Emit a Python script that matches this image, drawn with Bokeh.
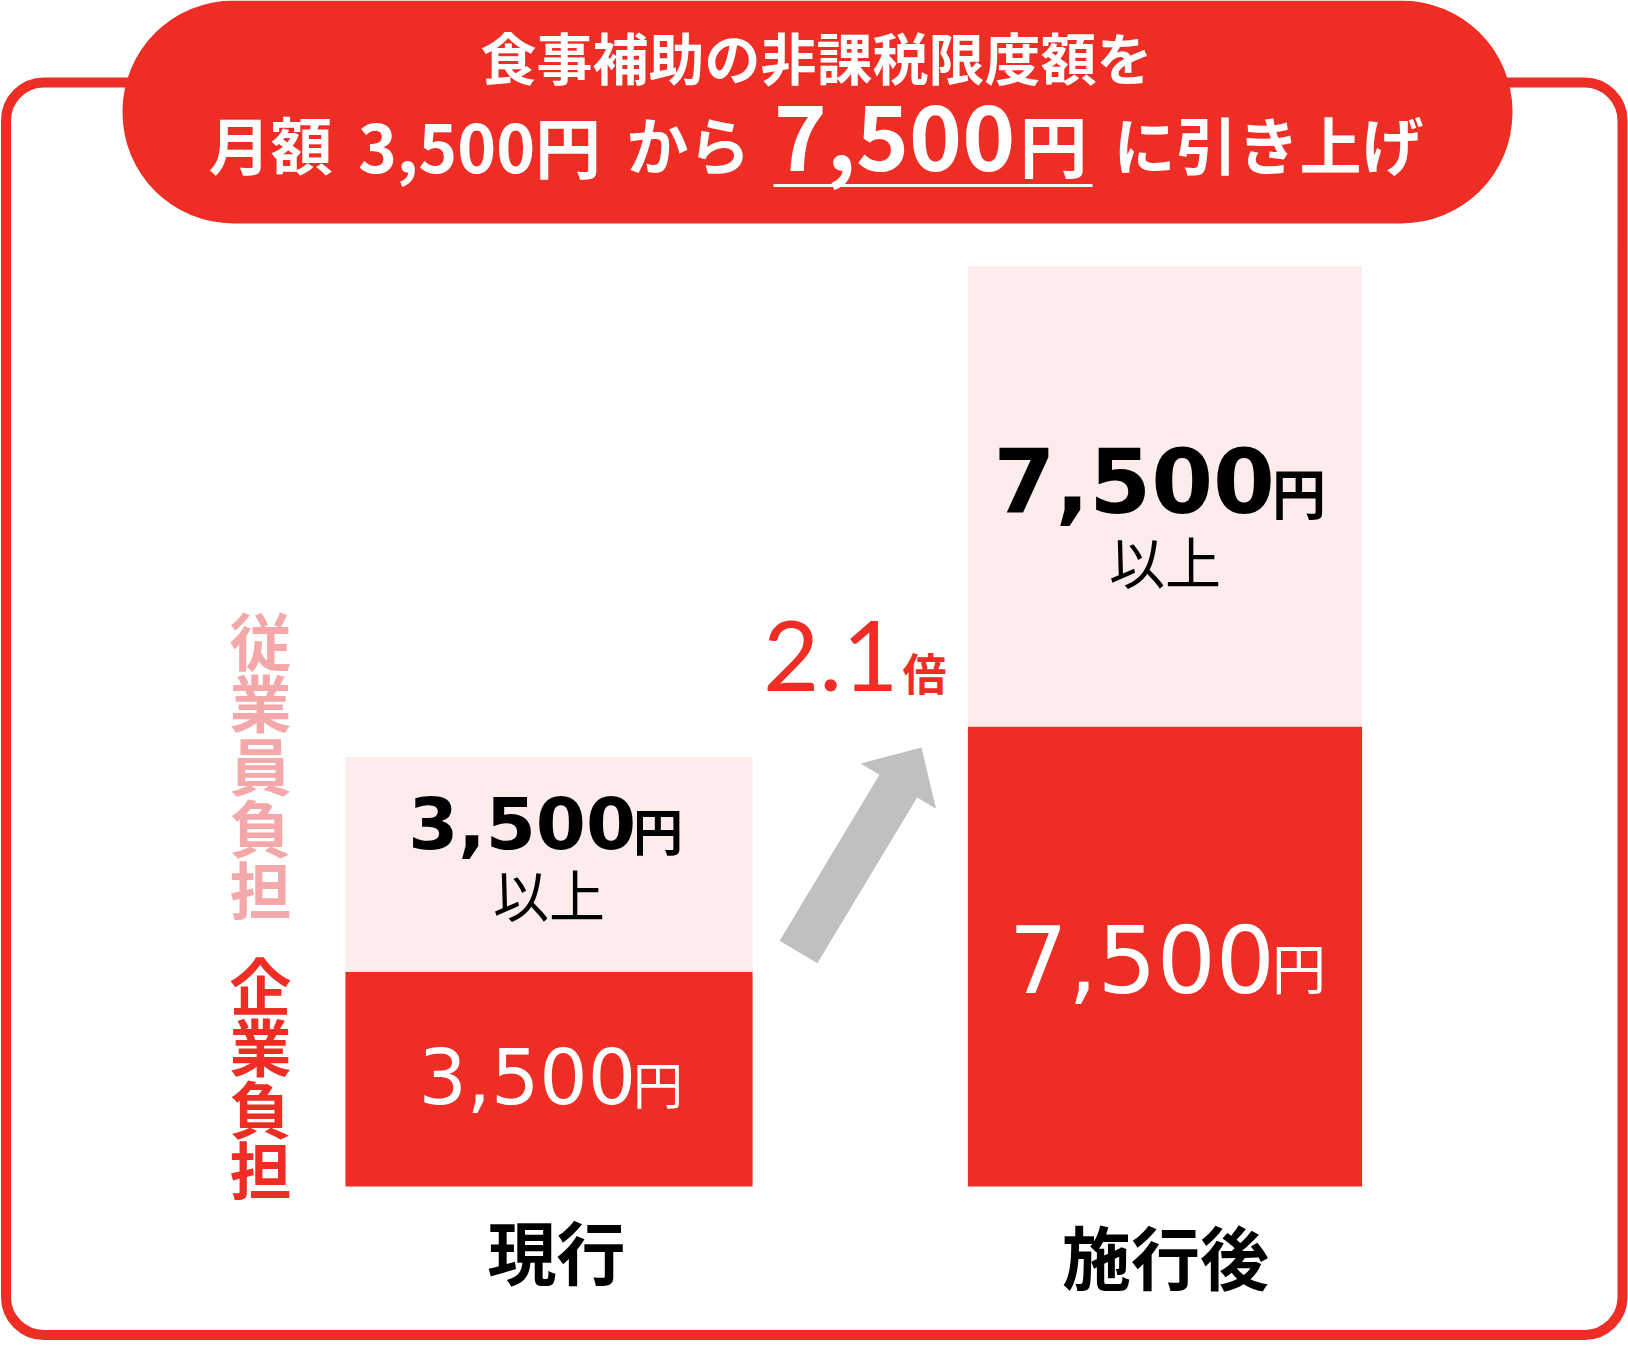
import numpy as np
from bokeh.plotting import figure
from bokeh.models import Range1d, BoxAnnotation, ColumnDataSource
from bokeh.core.properties import value
from bokeh.embed import file_html
from bokeh.resources import INLINE

# ---------------- data ----------------
categories = ["現行", "施行後"]
company = [3500, 7500]          # 企業負担 (円)
employee = [3500, 7500]         # 従業員負担 (円以上)
company_labels = ["3,500", "7,500"]
employee_labels = ["3,500", "7,500"]
yen_unit = "円"
min_note = "以上"
ratio_label = "2.1"
ratio_unit = "倍"
company_title = "企業負担"
employee_title = "従業員負担"
title_line1 = "食事補助の非課税限度額を"
title_parts = ["月額", "3,500円", "から", "7,500", "円", "に引き上げ"]

# ---------------- style / layout ----------------
RED = "#EE2D24"
PINK_BG = "#FDECEC"
PINK_TXT = "#F5A8A9"
GRAY = "#C0C0C0"
JP = value("Noto Sans CJK JP")
NUM = value("DejaVu Sans")
NUM2 = value("Lato")

W, H = 1628, 1350

p = figure(width=W, height=H, x_range=Range1d(0, W), y_range=Range1d(H, 0),
           output_backend="svg", toolbar_location=None, min_border=0)
p.axis.visible = False
p.grid.visible = False
p.outline_line_color = None
p.background_fill_color = "white"
p.border_fill_color = "white"

# category / value scales for the bars
cat_px, cat0_px = 616.0, 548.5
p.extra_x_ranges = {"cat": Range1d(-cat0_px / cat_px, (W - cat0_px) / cat_px)}
yen_per_px, base_px = 16.3, 1186.0
p.extra_y_ranges = {"yen": Range1d(-(H - base_px) * yen_per_px, base_px * yen_per_px)}
R = dict(x_range_name="cat", y_range_name="yen")

# frame and header pill
p.add_layout(BoxAnnotation(left=5.5, right=1622, top=82, bottom=1334.5, fill_color="white", fill_alpha=1,
                           line_color=RED, line_alpha=1, line_width=10, border_radius=38, level="underlay"))
p.add_layout(BoxAnnotation(left=122, right=1512, top=0, bottom=223, fill_color=RED, fill_alpha=1,
                           line_color=None, border_radius=111, level="underlay"))

# header text
p.text(x=[816], y=[55], text=[title_line1], text_font=JP, text_font_style="bold",
       text_font_size="56px", text_color="white", text_align="center", text_baseline="middle")
title_x = [270, 479, 688, 894, 1053, 1268]
title_y = [142, 143, 142, 137, 143, 142]
title_sz = ["62px", "66px", "62px", "90px", "68px", "62px"]
for t, x, y, sz in zip(title_parts, title_x, title_y, title_sz):
    p.text(x=[x], y=[y], text=[t], text_font=JP, text_font_style="bold", text_font_size=sz,
           text_color="white", text_align="center", text_baseline="middle")
p.line(x=[773, 1092], y=[185, 185], line_color="white", line_width=3)

# bars
idx = list(range(len(categories)))
bar_w = [0.661, 0.640]
tops = [c + e for c, e in zip(company, employee)]
src = ColumnDataSource(dict(x=idx, w=bar_w, company=company, top=tops))
p.vbar(x="x", width="w", bottom=0, top="company", source=src, fill_color=RED, line_color=None, **R)
p.vbar(x="x", width="w", bottom="company", top="top", source=src, fill_color=PINK_BG, line_color=None, **R)

# value labels in bars
pink_fs, pink_yen_fs = [72, 89], [50, 54]
red_fs, red_yen_fs = [76, 93], [50, 54]
num_anchor = [87, 110]
yen_anchor = [84, 107]
pink_dy, pink_yen_dy, note_dy = [-42, -16], [-35, -5], [28, 63]
red_dy, red_yen_dy = [-3, 2.5], [3, 10.5]
for i in idx:
    ym = company[i] + employee[i] / 2
    p.text(x=[i], y=[ym], text=[employee_labels[i]], text_font=NUM, text_font_style="bold",
           text_font_size=f"{pink_fs[i]}px", text_color="black", text_align="right", text_baseline="middle",
           x_offset=num_anchor[i], y_offset=pink_dy[i], **R)
    p.text(x=[i], y=[ym], text=[yen_unit], text_font=JP, text_font_style="bold",
           text_font_size=f"{pink_yen_fs[i]}px", text_color="black", text_align="left",
           text_baseline="middle", x_offset=yen_anchor[i], y_offset=pink_yen_dy[i], **R)
    p.text(x=[i], y=[ym], text=[min_note], text_font=JP, text_font_size="56px", text_color="black",
           text_align="center", text_baseline="middle", y_offset=note_dy[i], **R)
    ym = company[i] / 2
    p.text(x=[i], y=[ym], text=[company_labels[i]], text_font=NUM, text_font_size=f"{red_fs[i]}px",
           text_color="white", text_align="right", text_baseline="middle",
           x_offset=num_anchor[i], y_offset=red_dy[i], **R)
    p.text(x=[i], y=[ym], text=[yen_unit], text_font=JP, text_font_size=f"{red_yen_fs[i]}px",
           text_color="white", text_align="left", text_baseline="middle",
           x_offset=yen_anchor[i], y_offset=red_yen_dy[i], **R)

# category labels
p.text(x=idx, y=[0, 0], text=categories, text_font=JP, text_font_style="bold", text_font_size="69px",
       text_color="black", text_align="center", text_baseline="middle", x_offset=[7.5, 0.5],
       y_offset=[63.5, 68], **R)

# vertical side titles
for j, ch in enumerate(employee_title):
    p.text(x=[260], y=[638.5 + 62.25 * j], text=[ch], text_font=JP, text_font_style="bold",
           text_font_size="62px", text_color=PINK_TXT, text_align="center", text_baseline="middle")
for j, ch in enumerate(company_title):
    p.text(x=[260], y=[983.5 + 61.3 * j], text=[ch], text_font=JP, text_font_style="bold",
           text_font_size="62px", text_color=RED, text_align="center", text_baseline="middle")

# arrow
tail = np.array([798.0, 951.5])
tip = np.array([921.0, 747.0])
u = (tip - tail) / np.linalg.norm(tip - tail)
n = np.array([-u[1], u[0]])
head_len, shaft_w, head_w = 45.0, 44.0, 88.0
base = tip - head_len * u
pts = [tail + n * shaft_w / 2, base + n * shaft_w / 2, base + n * head_w / 2, tip,
       base - n * head_w / 2, base - n * shaft_w / 2, tail - n * shaft_w / 2]
p.patch(x=[q[0] for q in pts], y=[q[1] for q in pts], fill_color=GRAY, line_color=None)

# ratio text
p.text(x=[898], y=[655], text=[ratio_label], text_font=NUM2, text_font_size="97px", text_color=RED,
       text_align="right", text_baseline="middle")
p.text(x=[902], y=[671], text=[ratio_unit], text_font=JP, text_font_style="bold", text_font_size="44px",
       text_color=RED, text_align="left", text_baseline="middle")

open("out.html", "w").write(file_html(p, INLINE))
